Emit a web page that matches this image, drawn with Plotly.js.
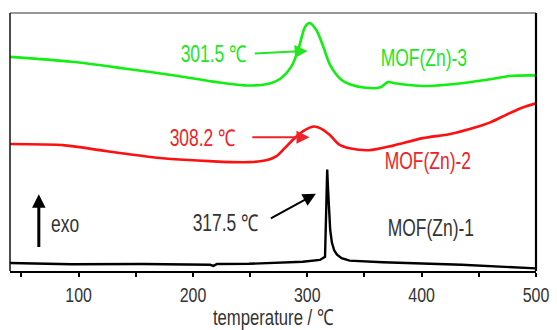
<!DOCTYPE html>
<html>
<head>
<meta charset="utf-8">
<script src="https://cdn.plot.ly/plotly-3.0.1.min.js"></script>
<style>html,body{margin:0;padding:0;background:#fff;}#chart{width:557px;height:330px;}</style>
</head>
<body>
<div id="chart"></div>
<script>
// temperature (°C) and DSC signal (arbitrary units, curves offset)
var green_x = [40, 94, 140, 187, 218, 249, 268, 277, 286, 292, 298, 302, 308, 314, 320, 330, 337, 351, 364, 370.5, 376, 401, 435, 460, 477, 500];
var green_y = [83.0, 81.1, 78.5, 75.6, 73.4, 71.9, 72.8, 74.7, 79.2, 85.6, 94.6, 96.1, 93.3, 86.9, 79.8, 74.0, 72.4, 71.0, 71.2, 73.2, 72.8, 71.7, 72.8, 74.3, 75.6, 75.8];

var red_x = [40, 88, 125, 171, 218, 249, 265, 273, 280, 287.5, 296, 305.5, 312, 319.5, 328, 337, 354, 375, 401, 425, 448, 460, 477, 489, 500];
var red_y = [49.2, 48.7, 46.4, 43.8, 42.5, 42.2, 43.0, 44.5, 47.5, 50.9, 54.1, 56.0, 55.2, 52.8, 49.0, 47.6, 46.8, 48.6, 51.5, 53.1, 55.8, 57.6, 61.2, 63.5, 65.0];

var black_x = [40, 94, 156, 215, 218, 221, 249, 296, 311, 315.5, 316.6, 317.4, 318, 318.8, 320, 321.5, 323.5, 326, 330, 337, 366, 435, 500];
var black_y = [3.1, 2.6, 2.7, 2.4, 2.0, 2.7, 2.8, 3.6, 4.3, 5.5, 25.0, 39.3, 33.0, 25.0, 16.0, 11.0, 8.0, 6.3, 5.0, 4.0, 3.4, 2.4, 1.0];

var tick_vals = [50, 100, 150, 200, 250, 300, 350, 400, 450, 500];
var tick_text = ['', '100', '', '200', '', '300', '', '400', '', '500'];

var FONT = '"Liberation Sans", Arial, sans-serif';
var CONDENSE = 0.76;

var traces = [
  {x: green_x, y: green_y, mode: 'lines', line: {color: '#11ee11', width: 2.6, shape: 'spline', smoothing: 0.8}, name: 'MOF(Zn)-3'},
  {x: red_x, y: red_y, mode: 'lines', line: {color: '#ff1010', width: 2.6, shape: 'spline', smoothing: 0.8}, name: 'MOF(Zn)-2'},
  {x: black_x, y: black_y, mode: 'lines', line: {color: '#000000', width: 2.4}, name: 'MOF(Zn)-1'}
];

function txt(t, x, y, color, anchor) {
  return {x: x, y: y, xref: 'x', yref: 'y', text: t, showarrow: false,
    xanchor: anchor || 'center', yanchor: 'middle',
    font: {family: FONT, size: 23, color: color}};
}
function arr(x0, y0, x1, y1, color, w, size) {
  return {x: x1, y: y1, ax: x0, ay: y0, xref: 'x', yref: 'y', axref: 'x', ayref: 'y',
    text: '', showarrow: true, arrowhead: 2, arrowsize: size || 1.3, arrowwidth: w || 1.8, arrowcolor: color};
}

var annotations = [
  txt('301.5 \u2103', 218.2, 84.3, '#22e622'),
  arr(252.8, 84.3, 300.3, 85.3, '#22e622', 2),
  txt('308.2 \u2103', 208.7, 51.6, '#ee2228'),
  arr(250.6, 51.8, 301.9, 51.8, '#ee2228', 2),
  txt('317.5 \u2103', 228.1, 18.8, '#333333'),
  arr(266.8, 20.1, 307.5, 29.9, '#000000', 2),
  txt('MOF(Zn)-3', 402.3, 82.4, '#22e622'),
  txt('MOF(Zn)-2', 405.2, 42.5, '#ee2228'),
  txt('MOF(Zn)-1', 408.1, 16.5, '#333333'),
  txt('exo', 74.2, 18.1, '#333333', 'left'),
  arr(65.2, 8.7, 65.2, 29.7, '#000000', 3, 0.9)
];

var layout = {
  width: 557, height: 330,
  margin: {l: 10, r: 21, t: 13, b: 59},
  paper_bgcolor: '#ffffff', plot_bgcolor: '#ffffff',
  showlegend: false,
  xaxis: {
    range: [40, 500], showgrid: false, zeroline: false,
    tickvals: tick_vals, ticktext: tick_text,
    ticks: 'outside', ticklen: 4, tickwidth: 2, tickcolor: '#000',
    ticklabelstandoff: 0,
    showline: true, linecolor: '#000', linewidth: 2,
    tickfont: {family: FONT, size: 21, color: '#333'},
    title: {text: 'temperature / \u2103', font: {family: FONT, size: 22, color: '#333'}, standoff: 7}
  },
  yaxis: {
    range: [0, 100], showgrid: false, zeroline: false, showticklabels: false, ticks: '',
    showline: false
  },
  shapes: [
    {type: 'line', xref: 'paper', yref: 'paper', x0: 0, x1: 1, y0: 1, y1: 1, line: {color: '#333', width: 1.2}},
    {type: 'line', xref: 'paper', yref: 'paper', x0: 0, x1: 0, y0: 0, y1: 1, line: {color: '#111', width: 1.5}},
    {type: 'line', xref: 'paper', yref: 'paper', x0: 1, x1: 1, y0: 0, y1: 1, line: {color: '#000', width: 2.2}}
  ],
  annotations: annotations
};

Plotly.newPlot('chart', traces, layout, {displayModeBar: false, staticPlot: true}).then(function (gd) {
  // emulate a narrow sans face by condensing the text horizontally
  var texts = gd.querySelectorAll('svg text');
  texts.forEach(function (el) {
    var bb;
    try { bb = el.getBBox(); } catch (e) { return; }
    if (!bb || !bb.width) return;
    var ox = bb.x + bb.width / 2;
    var ann = el.closest('g.annotation');
    if (ann) {
      var idx = +ann.getAttribute('data-index');
      if (annotations[idx] && annotations[idx].xanchor === 'left') ox = bb.x;
    }
    var t = el.getAttribute('transform') || '';
    el.setAttribute('transform', t + ' translate(' + ox + ',0) scale(' + CONDENSE + ',1) translate(' + (-ox) + ',0)');
  });
});
</script>
</body>
</html>
